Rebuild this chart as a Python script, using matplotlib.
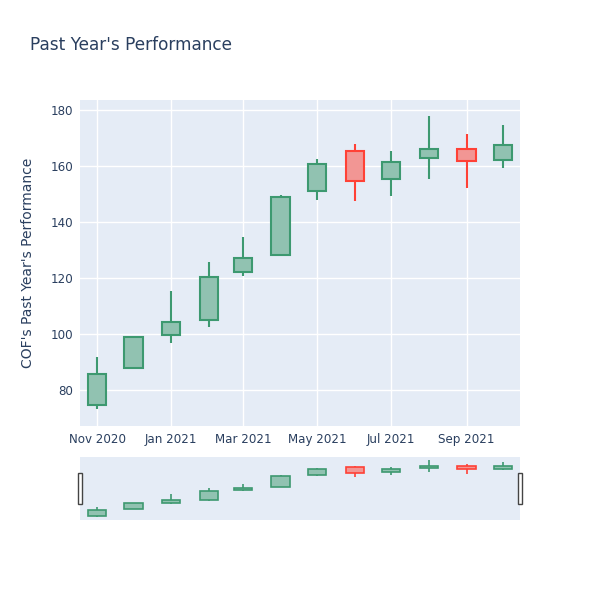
import numpy as np
import pandas as pd
import matplotlib
matplotlib.use("Agg")
import matplotlib.pyplot as plt
import matplotlib.dates as mdates

# monthly candles
dates = pd.date_range("2020-11-01", periods=12, freq="MS")
opens = [74.6, 87.7, 99.5, 104.9, 122.1, 128.2, 151.0, 165.2, 155.4, 162.9, 166.0, 162.1]
closes = [85.6, 98.8, 104.4, 120.2, 127.1, 149.0, 160.7, 154.6, 161.5, 166.0, 161.7, 167.5]
highs = [91.9, 99.0, 115.4, 125.6, 134.5, 149.8, 162.6, 167.7, 165.2, 177.9, 171.3, 174.5]
lows = [73.1, 87.6, 96.9, 102.5, 120.8, 127.7, 147.7, 147.5, 149.4, 155.4, 152.0, 159.4]

tick_dates = pd.to_datetime(["2020-11-01", "2021-01-01", "2021-03-01",
                             "2021-05-01", "2021-07-01", "2021-09-01"])
tick_labels = ["Nov 2020", "Jan 2021", "Mar 2021", "May 2021", "Jul 2021", "Sep 2021"]
y_ticks = [80, 100, 120, 140, 160, 180]

INC, INC_FILL = "#3D9970", "#91C2B1"
DEC, DEC_FILL = "#FF4136", "#F29694"
BG = "#E5ECF6"
TXT = "#2a3f5f"

fig = plt.figure(figsize=(6, 6), dpi=100)
ax = fig.add_axes([80 / 600, 174 / 600, 440 / 600, 326 / 600])
sl = fig.add_axes([80 / 600, 80 / 600, 440 / 600, 63 / 600])

x = mdates.date2num(dates)
o, c, h, l = map(np.array, (opens, closes, highs, lows))
up = c >= o


def draw_candles(a, lw):
    for i in range(len(x)):
        col = INC if up[i] else DEC
        fill = INC_FILL if up[i] else DEC_FILL
        lo_b, hi_b = min(o[i], c[i]), max(o[i], c[i])
        a.vlines(x[i], l[i], lo_b, color=col, lw=lw, zorder=2)
        a.vlines(x[i], hi_b, h[i], color=col, lw=lw, zorder=2)
        a.bar(x[i], hi_b - lo_b, bottom=lo_b, width=15, facecolor=fill,
              edgecolor=col, linewidth=lw, zorder=3)


draw_candles(ax, 1.5)
xlim = (mdates.date2num(pd.Timestamp("2020-10-18")), mdates.date2num(pd.Timestamp("2021-10-15")))

ax.set_facecolor(BG)
ax.set_xlim(xlim)
ax.set_ylim(67.1, 183.6)
ax.set_xticks(mdates.date2num(tick_dates))
ax.set_xticklabels(tick_labels)
ax.set_yticks(y_ticks)
ax.grid(True, color="white", lw=1)
ax.set_axisbelow(True)
for s in ax.spines.values():
    s.set_visible(False)
ax.tick_params(length=0, labelsize=8.6, labelcolor=TXT, pad=5)
ax.set_ylabel("COF's Past Year's Performance", fontsize=10, color=TXT, labelpad=11)

# range slider
draw_candles(sl, 1.2)
sl.set_facecolor(BG)
sl.set_xlim(xlim)
sl.set_ylim(min(lows) - 5.5, max(highs) + 5.5)
sl.set_xticks([])
sl.set_yticks([])
for s in sl.spines.values():
    s.set_visible(False)
for hx in (xlim[0], xlim[1]):
    sl.add_patch(plt.Rectangle((hx - 1.6, 0.25), 3.2, 0.5, transform=sl.get_xaxis_transform(),
                               facecolor="white", edgecolor="#444444", lw=1, clip_on=False, zorder=5))

fig.text(30 / 600, 1 - 45 / 600, "Past Year's Performance", fontsize=12.2, color=TXT, va="center")

fig.savefig("out.png", dpi=100)
